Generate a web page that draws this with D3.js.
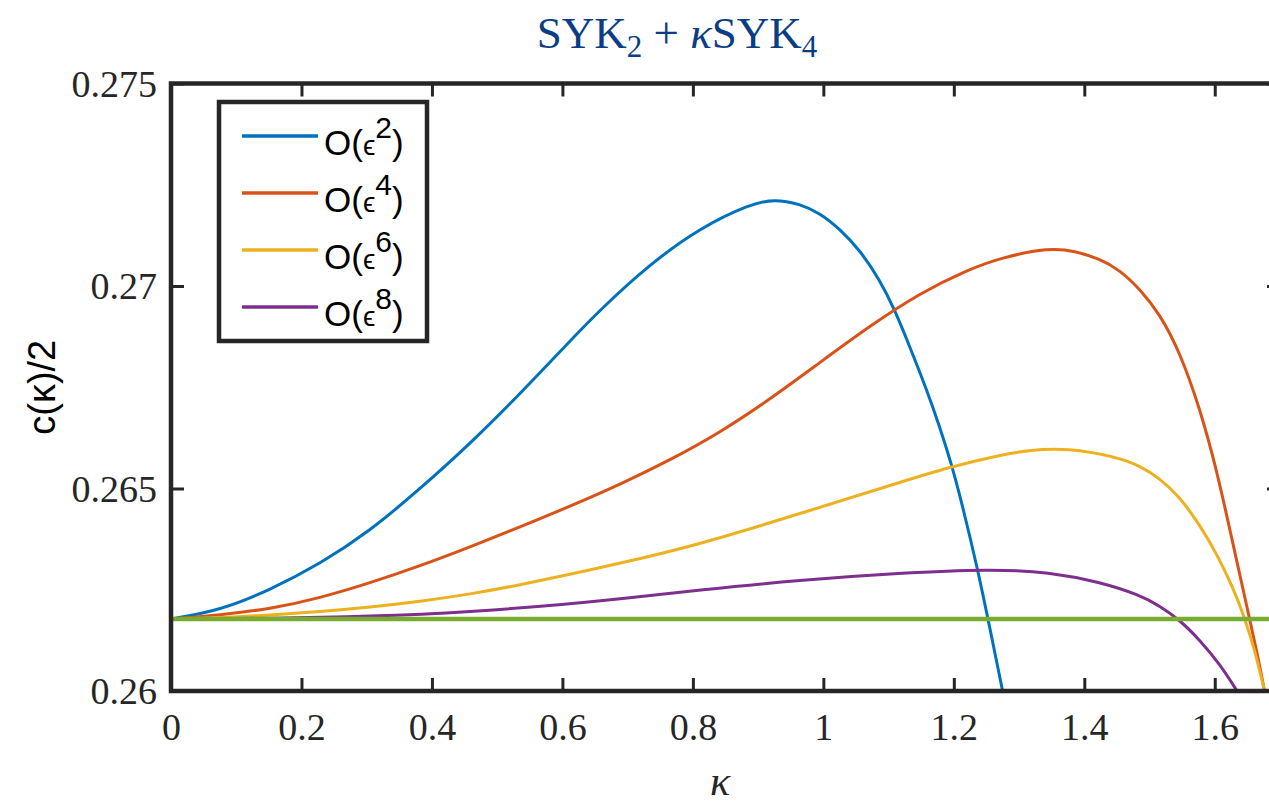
<!DOCTYPE html>
<html>
<head>
<meta charset="utf-8">
<script src="https://cdn.jsdelivr.net/npm/d3@7"></script>
<style>
  body { margin: 0; background: #fff; }
  svg { display: block; }
</style>
</head>
<body>
<div id="chart"></div>
<script>
// kappa values and c(kappa)/2, one pair of arrays per order
var kBlue = [0, 0.0751, 0.1517, 0.2284, 0.3050, 0.3816, 0.4582, 0.5349, 0.6115, 0.6575, 0.7341, 0.8107, 0.8874, 0.9257, 0.9640, 0.9946, 1.0253, 1.0559, 1.0866, 1.1096, 1.1326, 1.1586, 1.1785, 1.1969, 1.2138, 1.2368, 1.2521, 1.2751];
var cBlue = [0.261778, 0.261988, 0.262494, 0.263136, 0.263951, 0.264988, 0.266099, 0.267333, 0.268642, 0.269407, 0.270543, 0.271432, 0.272025, 0.272148, 0.272025, 0.271802, 0.271407, 0.270889, 0.270148, 0.269407, 0.268494, 0.267432, 0.266519, 0.265580, 0.264543, 0.262988, 0.261802, 0.259975];

var kOrange = [0, 0.0751, 0.1517, 0.2284, 0.3050, 0.3816, 0.4582, 0.5349, 0.6115, 0.6881, 0.7648, 0.8414, 0.9180, 0.9946, 1.0713, 1.1479, 1.2245, 1.2705, 1.3471, 1.3854, 1.4238, 1.4544, 1.4851, 1.5157, 1.5464, 1.5770, 1.6031, 1.6276, 1.6490, 1.6644, 1.6766];
var cOrange = [0.261778, 0.261877, 0.262025, 0.262296, 0.262667, 0.263086, 0.263556, 0.264049, 0.264560, 0.265100, 0.265700, 0.266380, 0.267200, 0.268110, 0.269012, 0.269827, 0.270420, 0.270691, 0.270951, 0.270864, 0.270667, 0.270395, 0.269926, 0.269309, 0.268370, 0.266988, 0.265457, 0.263654, 0.262099, 0.260988, 0.259975];

var kYellow = [0, 0.0751, 0.1517, 0.2284, 0.3050, 0.3816, 0.4582, 0.5349, 0.6115, 0.6881, 0.8107, 0.9640, 1.1172, 1.1939, 1.2705, 1.3165, 1.3732, 1.4498, 1.4851, 1.5157, 1.5464, 1.5770, 1.6031, 1.6276, 1.6460, 1.6613, 1.6766];
var cYellow = [0.261778, 0.261810, 0.261875, 0.261960, 0.262070, 0.262210, 0.262390, 0.262620, 0.262880, 0.263150, 0.263620, 0.264380, 0.265150, 0.265531, 0.265827, 0.265951, 0.266000, 0.265780, 0.265560, 0.265250, 0.264790, 0.264099, 0.263383, 0.262568, 0.261802, 0.261012, 0.259975];

var kPurple = [0, 0.1517, 0.3050, 0.4582, 0.6115, 0.6881, 0.8107, 0.9640, 1.1172, 1.2552, 1.3471, 1.4238, 1.4851, 1.5157, 1.5464, 1.5770, 1.6077, 1.6352];
var cPurple = [0.261778, 0.261790, 0.261840, 0.261951, 0.262148, 0.262272, 0.262494, 0.262741, 0.262914, 0.263012, 0.262938, 0.262691, 0.262370, 0.262099, 0.261753, 0.261259, 0.260667, 0.259975];

// flat reference value (green line)
var kGreen = [0, 1.7];
var cGreen = [0.26178, 0.26178];

var seriesNames = ["2", "4", "6", "8"];
var seriesColors = ["#0072BD", "#D95319", "#EDB120", "#7E2F8E"];

var xTicks = [0, 0.2, 0.4, 0.6, 0.8, 1, 1.2, 1.4, 1.6];
var yTicks = [0.26, 0.265, 0.27, 0.275];

var W = 1269, H = 805;
var margin = { top: 83.5, right: -11, bottom: 114, left: 171 };
var width = W - margin.left - margin.right,
    height = H - margin.top - margin.bottom;

var svg = d3.select("#chart").append("svg")
    .attr("width", W)
    .attr("height", H);

var x = d3.scaleLinear().domain([0, 1.7]).range([0, width]);
var y = d3.scaleLinear().domain([0.26, 0.275]).range([height, 0]);

var g = svg.append("g").attr("transform", "translate(" + margin.left + "," + margin.top + ")");

svg.append("defs").append("clipPath").attr("id", "clip")
    .append("rect").attr("width", width).attr("height", height);

function pairs(ks, cs) {
    return ks.map(function (k, i) { return [k, cs[i]]; });
}

// smoothing spline, the read-off points are a little noisy
var line = d3.line()
    .x(function (d) { return x(d[0]); })
    .y(function (d) { return y(d[1]); })
    .curve(d3.curveBasis);

var curves = [
    pairs(kBlue, cBlue),
    pairs(kOrange, cOrange),
    pairs(kYellow, cYellow),
    pairs(kPurple, cPurple)
];

var plot = g.append("g").attr("clip-path", "url(#clip)");

plot.selectAll("path.curve")
    .data(curves)
    .enter().append("path")
    .attr("class", "curve")
    .attr("d", line)
    .attr("fill", "none")
    .attr("stroke", function (d, i) { return seriesColors[i]; })
    .attr("stroke-width", 3);

plot.append("path")
    .attr("d", line(pairs(kGreen, cGreen)))
    .attr("fill", "none")
    .attr("stroke", "#77AC30")
    .attr("stroke-width", 4.5);

// axes: ticks point inward, on all four sides
var axisColor = "#262626";
var tickLen = 13;

function styleAxis(sel) {
    sel.select(".domain").remove();
    sel.selectAll(".tick line").attr("stroke", axisColor).attr("stroke-width", 3);
}

g.append("g")
    .attr("transform", "translate(0," + height + ")")
    .call(d3.axisBottom(x).tickValues(xTicks).tickSize(-tickLen).tickPadding(22)
        .tickFormat(function (d) { return String(+d.toFixed(1)); }))
    .call(styleAxis)
    .selectAll("text")
    .attr("fill", axisColor)
    .attr("font-family", "Liberation Serif, serif")
    .attr("font-size", 38)
    .attr("dy", "0.71em");

g.append("g")
    .call(d3.axisTop(x).tickValues(xTicks).tickSize(-tickLen).tickFormat(""))
    .call(styleAxis);

g.append("g")
    .call(d3.axisLeft(y).tickValues(yTicks).tickSize(-tickLen).tickPadding(14)
        .tickFormat(function (d) { return String(+d.toFixed(3)); }))
    .call(styleAxis)
    .selectAll("text")
    .attr("fill", axisColor)
    .attr("font-family", "Liberation Serif, serif")
    .attr("font-size", 38)
    .attr("dy", "0.34em");

g.append("g")
    .attr("transform", "translate(" + width + ",0)")
    .call(d3.axisRight(y).tickValues(yTicks).tickSize(-tickLen).tickFormat(""))
    .call(styleAxis);

g.append("rect")
    .attr("width", width)
    .attr("height", height)
    .attr("fill", "none")
    .attr("stroke", axisColor)
    .attr("stroke-width", 4.5);

// title
var title = svg.append("text")
    .attr("x", 677)
    .attr("y", 48)
    .attr("text-anchor", "middle")
    .attr("fill", "#0b3d84")
    .attr("font-family", "Liberation Serif, serif")
    .attr("font-size", 45);
title.append("tspan").text("SYK");
title.append("tspan").attr("font-size", 31).attr("dy", 9).text("2");
title.append("tspan").attr("dy", -9).text(" + ");
title.append("tspan").attr("font-style", "italic").text("κ");
title.append("tspan").text("SYK");
title.append("tspan").attr("font-size", 31).attr("dy", 9).text("4");

// axis labels
svg.append("text")
    .attr("x", 720)
    .attr("y", 795)
    .attr("text-anchor", "middle")
    .attr("fill", axisColor)
    .attr("font-family", "Liberation Serif, serif")
    .attr("font-style", "italic")
    .attr("font-size", 42)
    .text("κ");

svg.append("text")
    .attr("transform", "translate(55," + (margin.top + height / 2) + ") rotate(-90)")
    .attr("text-anchor", "middle")
    .attr("fill", "#000")
    .attr("font-family", "Liberation Sans, Arial, sans-serif")
    .attr("font-size", 38)
    .text("c(κ)/2");

// legend
var legend = svg.append("g").attr("transform", "translate(219,102)");
legend.append("rect")
    .attr("width", 208)
    .attr("height", 239)
    .attr("fill", "#fff")
    .attr("stroke", axisColor)
    .attr("stroke-width", 4.5);

var item = legend.selectAll("g.item")
    .data(seriesNames)
    .enter().append("g")
    .attr("class", "item")
    .attr("transform", function (d, i) { return "translate(0," + (34 + i * 57) + ")"; });

item.append("line")
    .attr("x1", 23).attr("x2", 99)
    .attr("stroke", function (d, i) { return seriesColors[i]; })
    .attr("stroke-width", 3.5);

var lt = item.append("text")
    .attr("x", 105)
    .attr("y", 19)
    .attr("fill", "#000")
    .attr("font-family", "Liberation Sans, Arial, sans-serif")
    .attr("font-size", 35);
lt.append("tspan").text("O(");
lt.append("tspan").attr("font-size", 28).text("ϵ");
lt.append("tspan").attr("font-size", 30).attr("dy", -17).text(function (d) { return d; });
lt.append("tspan").attr("dy", 17).text(")");
</script>
</body>
</html>
